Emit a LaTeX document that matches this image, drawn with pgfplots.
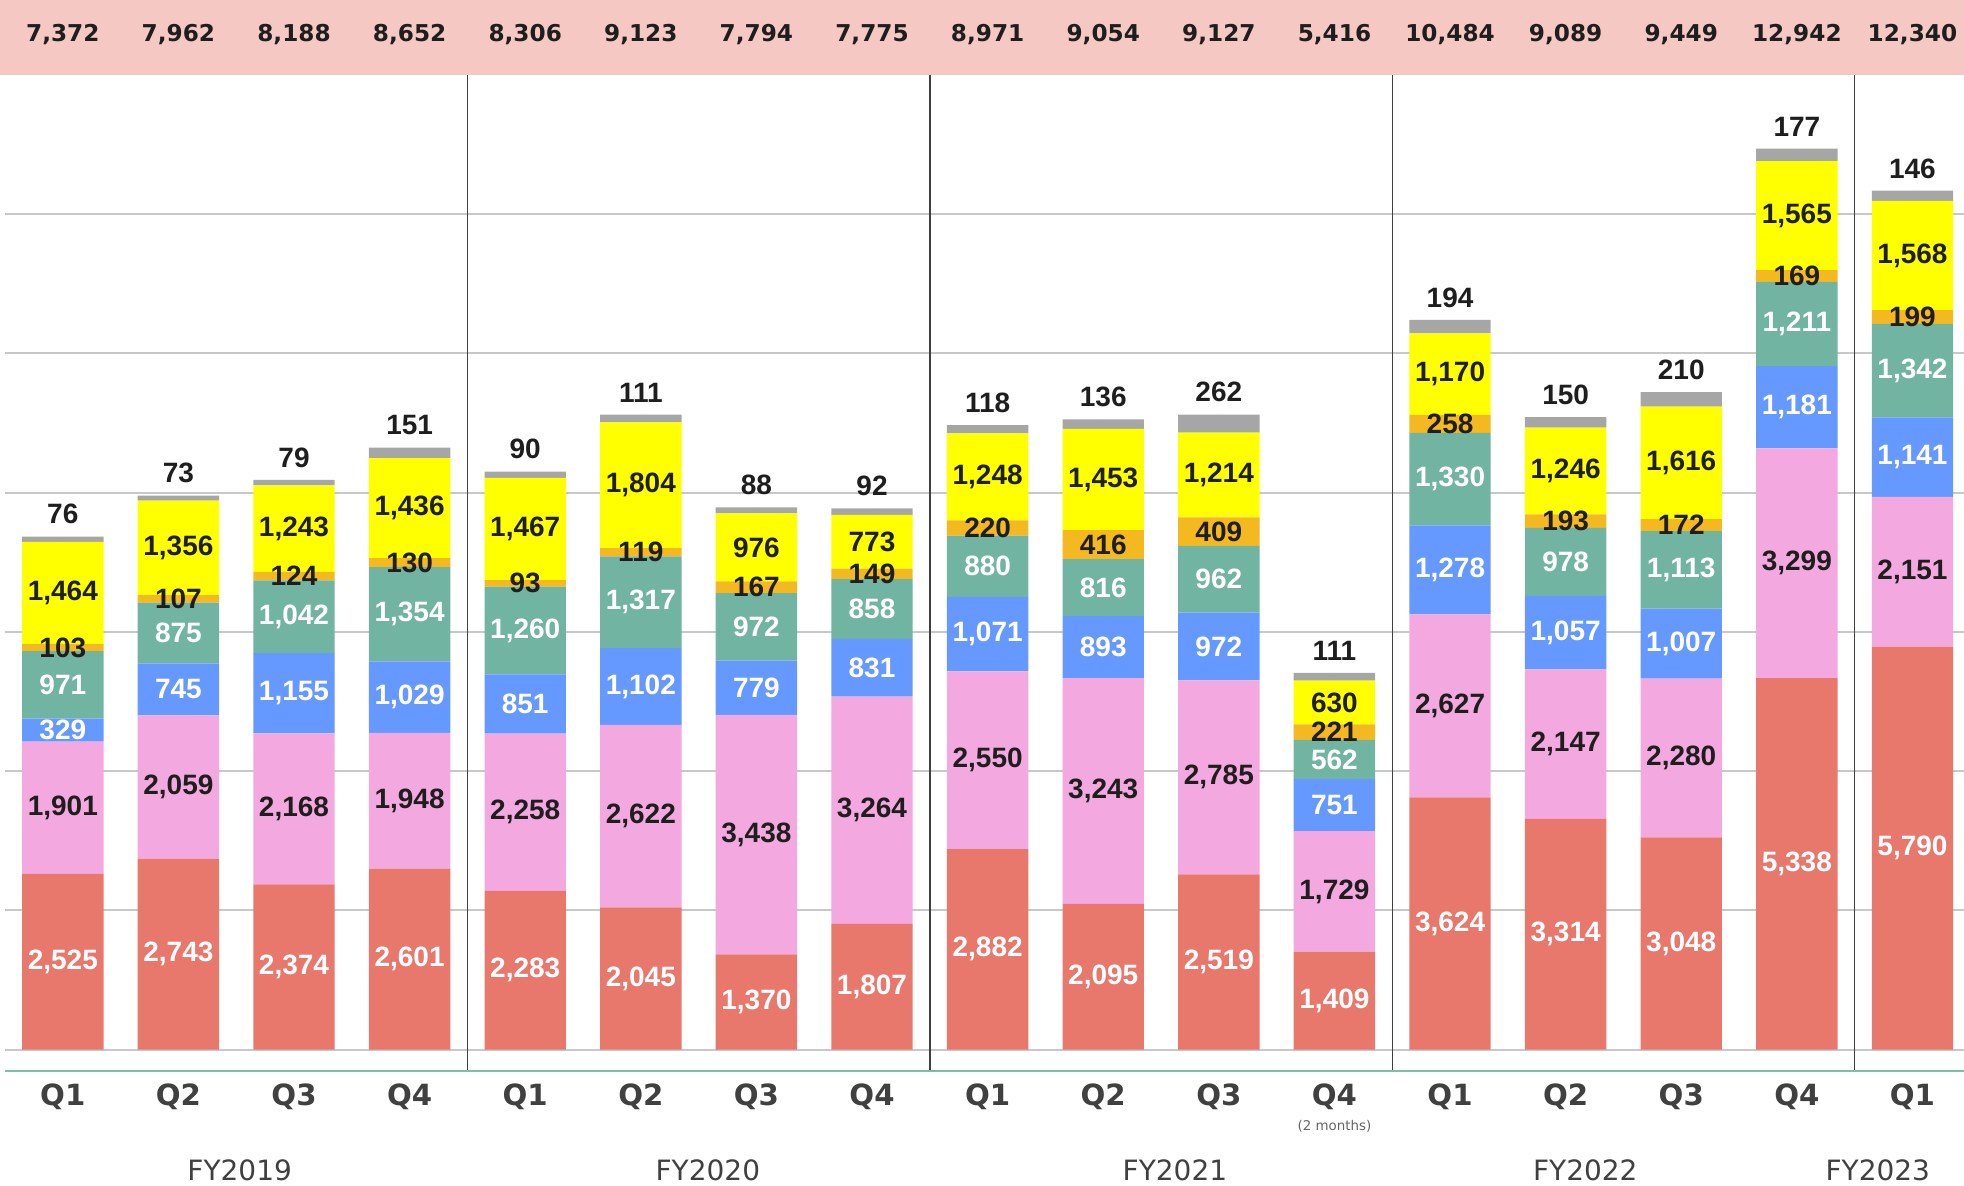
\documentclass[border=0pt]{standalone}
\usepackage{pgfplots}
\pgfplotsset{compat=1.18}
\usepackage{pgfplotstable}
\usepackage{fontspec}
\setmainfont{DejaVu Sans}
\newfontfamily\segfont{Liberation Sans}

\definecolor{cred}{HTML}{E8786C}
\definecolor{cpink}{HTML}{F4A8E0}
\definecolor{cblue}{HTML}{6699FF}
\definecolor{cteal}{HTML}{72B4A2}
\definecolor{corange}{HTML}{F4B820}
\definecolor{cyellow}{HTML}{FFFF00}
\definecolor{cgray}{HTML}{A6A6A6}
\definecolor{cband}{HTML}{F6C8C4}
\definecolor{cgreen}{HTML}{7CBFA8}
\definecolor{cgrid}{HTML}{C8C8C8}
\definecolor{csep}{HTML}{404040}
\definecolor{ctxt}{HTML}{1E1E1E}

\pgfplotstableread{
x red pink blue teal orange yellow gray
0 2525 1901 329 971 103 1464 76
1 2743 2059 745 875 107 1356 73
2 2374 2168 1155 1042 124 1243 79
3 2601 1948 1029 1354 130 1436 151
4 2283 2258 851 1260 93 1467 90
5 2045 2622 1102 1317 119 1804 111
6 1370 3438 779 972 167 976 88
7 1807 3264 831 858 149 773 92
8 2882 2550 1071 880 220 1248 118
9 2095 3243 893 816 416 1453 136
10 2519 2785 972 962 409 1214 262
11 1409 1729 751 562 221 630 111
12 3624 2627 1278 1330 258 1170 194
13 3314 2147 1057 978 193 1246 150
14 3048 2280 1007 1113 172 1616 210
15 5338 3299 1181 1211 169 1565 177
16 5790 2151 1141 1342 199 1568 146
}\data

% label positions (segment midpoints and bar tops)
\pgfplotstablecreatecol[create col/expr={\thisrow{red}/2}]{mred}\data
\pgfplotstablecreatecol[create col/expr={\thisrow{red}+\thisrow{pink}/2}]{mpink}\data
\pgfplotstablecreatecol[create col/expr={\thisrow{red}+\thisrow{pink}+\thisrow{blue}/2}]{mblue}\data
\pgfplotstablecreatecol[create col/expr={\thisrow{red}+\thisrow{pink}+\thisrow{blue}+\thisrow{teal}/2}]{mteal}\data
\pgfplotstablecreatecol[create col/expr={\thisrow{red}+\thisrow{pink}+\thisrow{blue}+\thisrow{teal}+\thisrow{orange}/2}]{morange}\data
\pgfplotstablecreatecol[create col/expr={\thisrow{red}+\thisrow{pink}+\thisrow{blue}+\thisrow{teal}+\thisrow{orange}+\thisrow{yellow}/2}]{myellow}\data
\pgfplotstablecreatecol[create col/expr={\thisrow{red}+\thisrow{pink}+\thisrow{blue}+\thisrow{teal}+\thisrow{orange}+\thisrow{yellow}+\thisrow{gray}}]{top}\data

\pgfplotsset{
  frame/.style={at={(2.5pt,0pt)}, anchor=north west, scale only axis,
    width=979.5pt, height=535.5pt, scaled y ticks=false, scaled x ticks=false,
    xmin=-0.5, xmax=16.446, ymin=-306, ymax=15076, clip=false},
  lab/.style n args={3}{only marks, mark=*, mark size=0pt,
    mark options={draw=none, fill=none},
    nodes near coords, point meta=explicit,
    every node near coord/.append style={anchor=#3, inner sep=0pt,
      text=#2, font=\segfont\bfseries\fontsize{14}{14}\selectfont}},
}

\begin{document}
\begin{tikzpicture}
\fill[cband] (0,0) rectangle (982pt,-37.5pt);
\begin{axis}[frame,
  ybar stacked, bar width=40.7pt,
  axis line style={draw=none},
  ytick={0,2000,...,12000}, yticklabels={},
  ytick style={draw=none}, xtick style={draw=none},
  ymajorgrids, grid style={cgrid, line width=1pt},
  xtick={0,...,16},
  xticklabels={Q1,Q2,Q3,Q4,Q1,Q2,Q3,Q4,Q1,Q2,Q3,Q4,Q1,Q2,Q3,Q4,Q1},
  x tick label style={font=\bfseries\fontsize{14.6}{15}\selectfont, anchor=center, yshift=-13pt, text=csep},
]
\addplot[fill=cred, draw=none] table[x=x,y=red]{\data};
\addplot[fill=cpink, draw=none] table[x=x,y=pink]{\data};
\addplot[fill=cblue, draw=none] table[x=x,y=blue]{\data};
\addplot[fill=cteal, draw=none] table[x=x,y=teal]{\data};
\addplot[fill=corange, draw=none] table[x=x,y=orange]{\data};
\addplot[fill=cyellow, draw=none] table[x=x,y=yellow]{\data};
\addplot[fill=cgray, draw=none] table[x=x,y=gray]{\data};

\draw[cgreen, line width=1.2pt] (axis cs:-0.5,-306) -- (axis cs:16.446,-306);
\draw[csep, line width=0.7pt] (axis cs:3.5,-306) -- (axis cs:3.5,14000);
\draw[csep, line width=0.7pt] (axis cs:7.5,-306) -- (axis cs:7.5,14000);
\draw[csep, line width=0.7pt] (axis cs:11.5,-306) -- (axis cs:11.5,14000);
\draw[csep, line width=0.7pt] (axis cs:15.5,-306) -- (axis cs:15.5,14000);
\tikzset{tot/.style={font=\bfseries\fontsize{11.6}{12}\selectfont, text=ctxt, anchor=center}}
\node[tot] at (axis cs:0,14573) {7,372};
\node[tot] at (axis cs:1,14573) {7,962};
\node[tot] at (axis cs:2,14573) {8,188};
\node[tot] at (axis cs:3,14573) {8,652};
\node[tot] at (axis cs:4,14573) {8,306};
\node[tot] at (axis cs:5,14573) {9,123};
\node[tot] at (axis cs:6,14573) {7,794};
\node[tot] at (axis cs:7,14573) {7,775};
\node[tot] at (axis cs:8,14573) {8,971};
\node[tot] at (axis cs:9,14573) {9,054};
\node[tot] at (axis cs:10,14573) {9,127};
\node[tot] at (axis cs:11,14573) {5,416};
\node[tot] at (axis cs:12,14573) {10,484};
\node[tot] at (axis cs:13,14573) {9,089};
\node[tot] at (axis cs:14,14573) {9,449};
\node[tot] at (axis cs:15,14573) {12,942};
\node[tot] at (axis cs:16,14573) {12,340};

\node[font=\fontsize{6.7}{7}\selectfont, text=csep!80] at (axis cs:11,-1096) {(2 months)};
\tikzset{fy/.style={font=\fontsize{14}{14}\selectfont, text=csep, anchor=center}}
\node[fy] at (axis cs:1.53,-1728) {FY2019};
\node[fy] at (axis cs:5.58,-1728) {FY2020};
\node[fy] at (axis cs:9.62,-1728) {FY2021};
\node[fy] at (axis cs:13.17,-1728) {FY2022};
\node[fy] at (axis cs:15.70,-1728) {FY2023};
\end{axis}
\begin{axis}[frame, hide axis,
  /pgf/number format/1000 sep={,},
  /pgf/number format/assume math mode=true]
\addplot[lab={x}{white}{center}] table[x=x,y=mred,meta=red]{\data};
\addplot[lab={x}{ctxt}{center}] table[x=x,y=mpink,meta=pink]{\data};
\addplot[lab={x}{white}{center}] table[x=x,y=mblue,meta=blue]{\data};
\addplot[lab={x}{white}{center}] table[x=x,y=mteal,meta=teal]{\data};
\addplot[lab={x}{ctxt}{center}] table[x=x,y=morange,meta=orange]{\data};
\addplot[lab={x}{ctxt}{center}] table[x=x,y=myellow,meta=yellow]{\data};
\addplot[lab={x}{ctxt}{south}, every node near coord/.append style={yshift=6pt}] table[x=x,y=top,meta=gray]{\data};
\end{axis}
\pgfresetboundingbox
\path[use as bounding box] (0,0) rectangle (982pt,-592.5pt);
\end{tikzpicture}
\end{document}
